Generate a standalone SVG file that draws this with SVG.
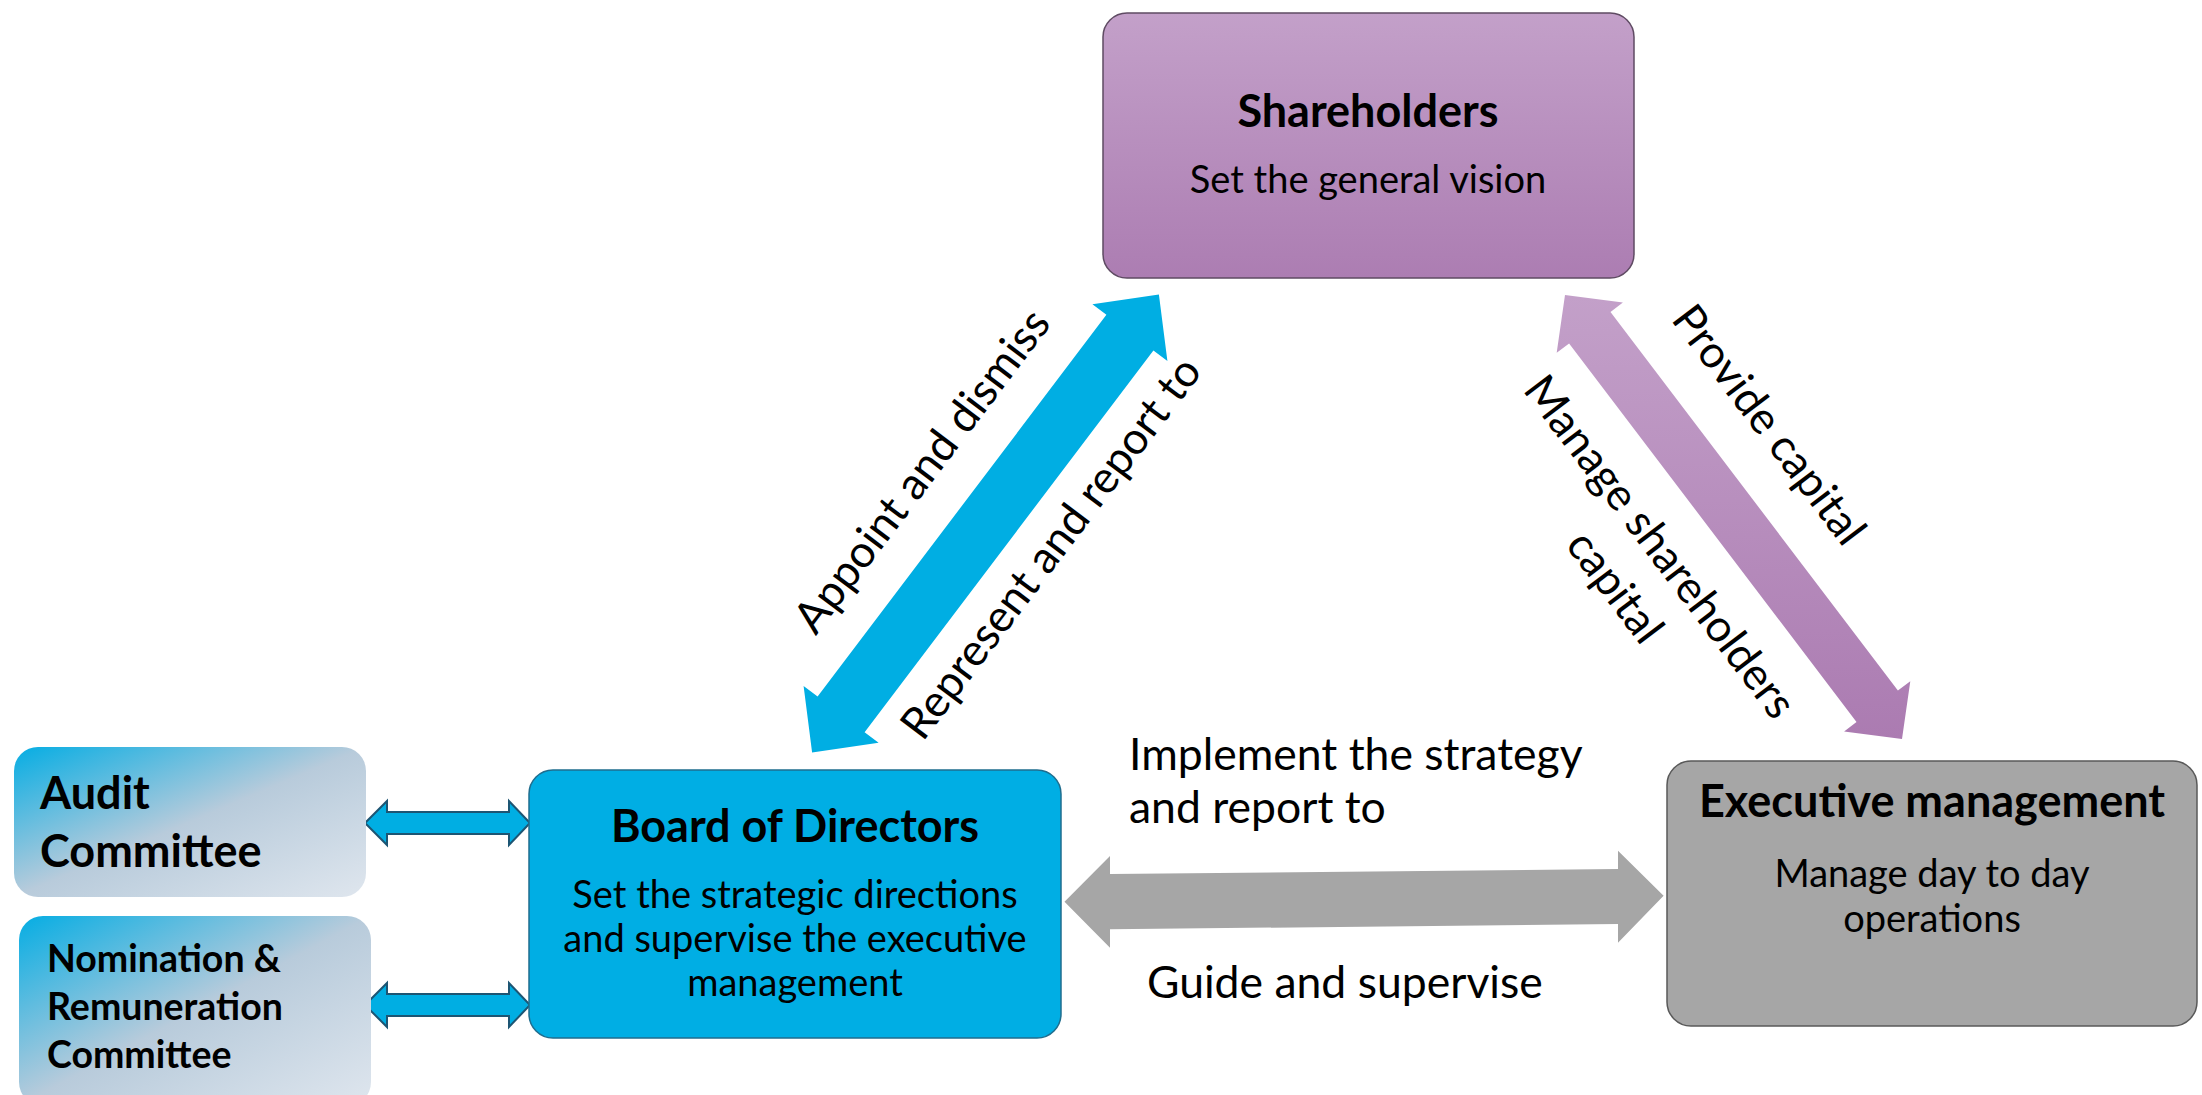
<svg xmlns="http://www.w3.org/2000/svg" width="2202" height="1095" viewBox="0 0 2202 1095">
<defs>
<linearGradient id="gPurpleBox" x1="0" y1="0" x2="0" y2="1">
<stop offset="0" stop-color="#c3a0c9"/>
<stop offset="1" stop-color="#ac7db2"/>
</linearGradient>
<linearGradient id="gPurpleArrow" gradientUnits="userSpaceOnUse" x1="0" y1="295" x2="0" y2="740">
<stop offset="0" stop-color="#c3a0c9"/>
<stop offset="1" stop-color="#ab7bb1"/>
</linearGradient>
<linearGradient id="gCommittee" x1="0" y1="0" x2="1" y2="1">
<stop offset="0" stop-color="#05ade3"/>
<stop offset="0.5" stop-color="#b8cbdb"/>
<stop offset="1" stop-color="#dfe6ee"/>
</linearGradient>
</defs>
<style>
.t{font-family:Lato,"Open Sans","Liberation Sans",sans-serif;fill:#000}
.title{font-weight:bold;font-size:45px;text-anchor:middle}
.sub{font-size:38px;text-anchor:middle}
.lbl{font-size:44.5px}
.lblc{font-size:44.5px;text-anchor:middle}
.cm{font-weight:bold;font-size:45px}
.cm2{font-weight:bold;font-size:37.5px}
.small{fill:#00aee3;stroke:#1d5573;stroke-width:2}
</style>
<rect width="2202" height="1095" fill="#ffffff"/>

<g id="connectors">
<polygon id="arrow-board-shareholders" fill="#00aee3" points="1158.9,294.4 1167.4,360.9 1153.4,350.4 864.6,732.2 878.6,742.7 812.1,752.6 803.6,686.1 817.6,696.6 1106.4,314.8 1092.4,304.3"/>
<polygon id="arrow-shareholders-exec" fill="url(#gPurpleArrow)" points="1565,295 1622.9,302.6 1610.5,312 1897.9,690.6 1910.3,681.2 1902,739 1844.1,731.4 1856.5,722 1569.1,343.4 1556.7,352.8"/>
<polygon id="arrow-board-exec" fill="#a6a6a6" points="1064.5,901.7 1110,856 1110,874 1618,869 1618,850.7 1663.6,895.7 1618,942.7 1618,924 1110,929.3 1110,947.7"/>
<polygon id="arrow-audit-board" class="small" points="365,823 387,801 387,812 509,812 509,801 530,823 509,845 509,834 387,834 387,845"/>
<polygon id="arrow-nom-board" class="small" points="365,1005 387,983 387,994 509,994 509,983 530,1005 509,1027 509,1016 387,1016 387,1027"/>
<text class="t lblc" transform="translate(934,480) rotate(-52.9)">Appoint and dismiss</text>
<text class="t lblc" transform="translate(1063,557) rotate(-52.9)">Represent and report to</text>
<text class="t lblc" transform="translate(1757,434) rotate(52.8)">Provide capital</text>
<text class="t lblc" transform="translate(1648,556) rotate(52.8)">Manage shareholders</text>
<text class="t lblc" transform="translate(1603,596) rotate(52.8)">capital</text>
<text class="t lbl" x="1129" y="770">Implement the strategy</text>
<text class="t lbl" x="1129" y="823">and report to</text>
<text class="t lbl" x="1147" y="998">Guide and supervise</text>
</g>

<g id="shareholders">
<rect x="1103" y="13" width="531" height="265" rx="24" fill="url(#gPurpleBox)" stroke="#5f4b63" stroke-width="1.5"/>
<text class="t title" x="1368" y="127">Shareholders</text>
<text class="t sub" x="1368" y="193">Set the general vision</text>
</g>

<g id="board">
<rect x="529" y="770" width="532" height="268" rx="24" fill="#00aee4" stroke="#1f6d8e" stroke-width="1.5"/>
<text class="t title" x="795" y="842">Board of Directors</text>
<text class="t sub" x="795" y="908">Set the strategic directions</text>
<text class="t sub" x="795" y="952">and supervise the executive</text>
<text class="t sub" x="795" y="996">management</text>
</g>

<g id="executive">
<rect x="1667" y="761" width="530" height="265" rx="24" fill="#a6a6a6" stroke="#595959" stroke-width="1.5"/>
<text class="t title" x="1932" y="817">Executive management</text>
<text class="t sub" x="1932" y="887">Manage day to day</text>
<text class="t sub" x="1932" y="932">operations</text>
</g>

<g id="audit">
<rect x="14" y="747" width="352" height="150" rx="24" fill="url(#gCommittee)"/>
<text class="t cm" x="40" y="809">Audit</text>
<text class="t cm" x="40" y="867">Committee</text>
</g>

<g id="nomination">
<rect x="19" y="916" width="352" height="190" rx="24" fill="url(#gCommittee)"/>
<text class="t cm2" x="47" y="972">Nomination &amp;</text>
<text class="t cm2" x="47" y="1020">Remuneration</text>
<text class="t cm2" x="47" y="1068">Committee</text>
</g>
</svg>
